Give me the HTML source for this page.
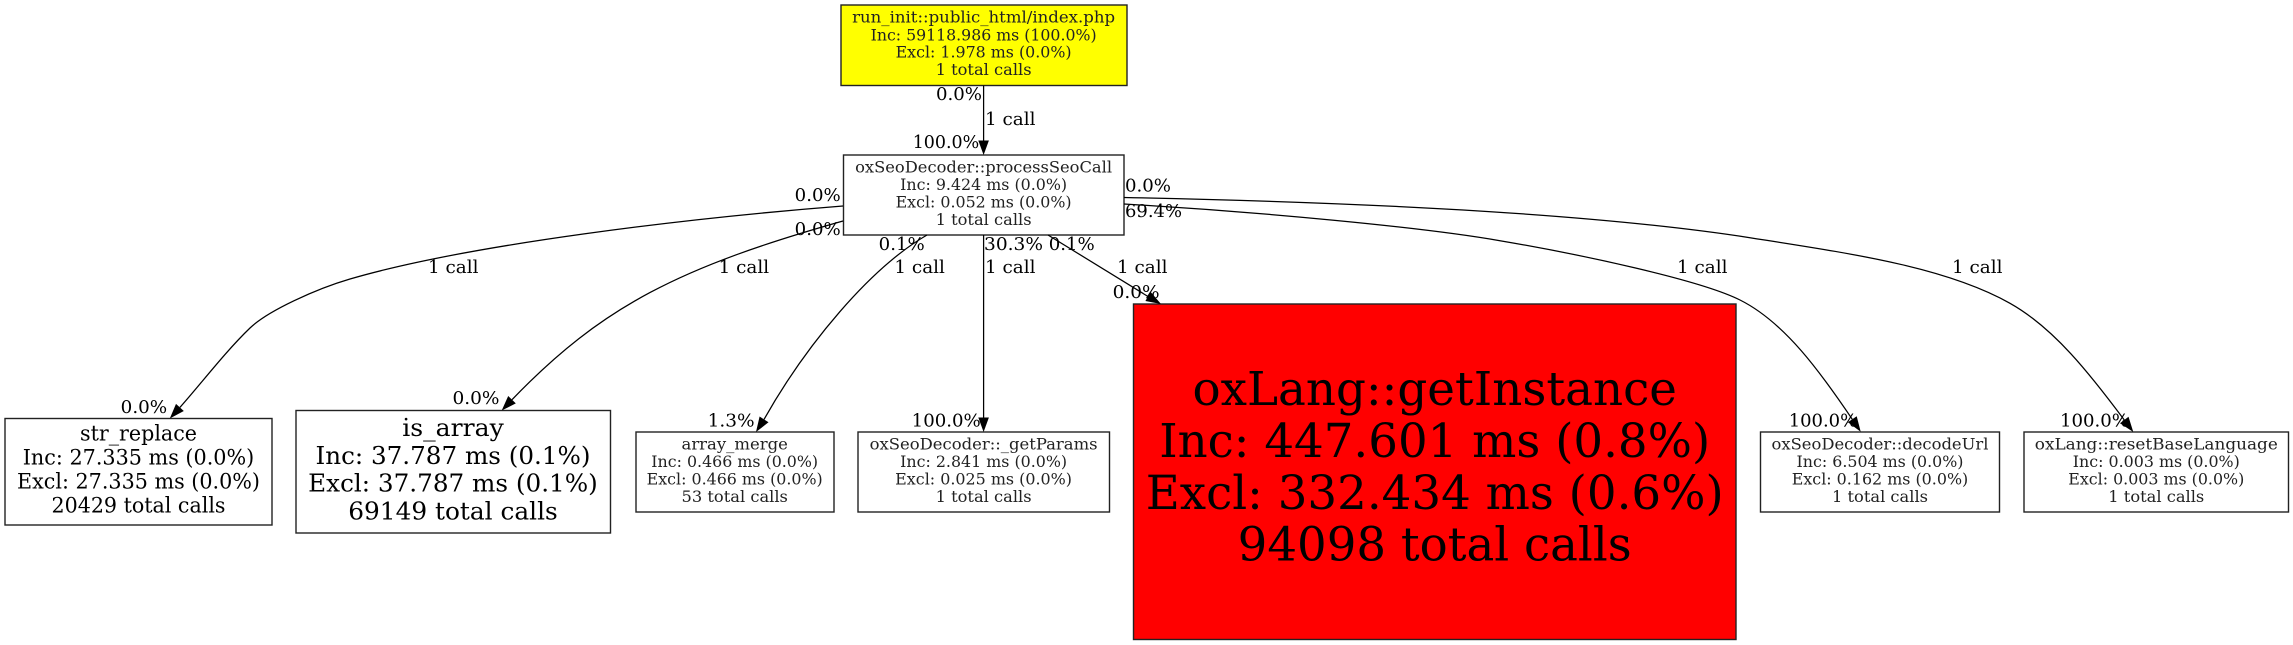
<!DOCTYPE html>
<html><head><meta charset="utf-8"><style>
html,body{margin:0;padding:0;background:#fff}
svg{display:block}
text{font-family:"DejaVu Serif","Liberation Serif",serif;fill:#000;text-anchor:middle}
.n rect{stroke:#222;stroke-width:1.4}
.s{font-size:15.6px;fill:#222}.m{font-size:21px}.a{font-size:24.5px}.b{font-size:46.5px}
.l{font-size:18px;text-anchor:start}
.e{fill:none;stroke:#000;stroke-width:1.25}
</style></head><body>
<svg width="2293" height="645" viewBox="0 0 2293 645" xmlns="http://www.w3.org/2000/svg">
<rect width="2293" height="645" fill="#fff"/>
<g class="n">
<rect x="841" y="5" width="286" height="80.5" fill="#ff0"/>
<rect x="843.5" y="155" width="280.5" height="80" fill="#fff"/>
<rect x="5" y="418.5" width="267" height="106.5" fill="#fff"/>
<rect x="296" y="410.5" width="314.5" height="122.5" fill="#fff"/>
<rect x="636" y="432" width="198" height="80" fill="#fff"/>
<rect x="858" y="432" width="251.5" height="80" fill="#fff"/>
<rect x="1133.5" y="304" width="602.5" height="335.5" fill="#f00"/>
<rect x="1760.5" y="432" width="239" height="80" fill="#fff"/>
<rect x="2024" y="432" width="264.5" height="80" fill="#fff"/>
</g>
<g>
<path class="e" d="M983.6,85.5 L983.6,141"/>
<path d="M978.3,140.5 L988.9,140.5 L983.6,155 Z"/>
<path class="e" d="M843,206 C690,218 470,244 350,279 C316.4,288.8 268,310.7 250,328 C225,352 200,385 179.9,407.4"/>
<path d="M183.8,411 L176,403.9 L169.8,418.5 Z"/>
<path class="e" d="M843,221 C680,267 602,306 512,399.7"/>
<path d="M515.8,403.4 L508.2,396 L501.7,410.5 Z"/>
<path class="e" d="M927,235 C870,268 806,345 764,419.4"/>
<path d="M768.5,422.3 L759.6,416.5 L756,432 Z"/>
<path class="e" d="M983.6,235 L983.6,418"/>
<path d="M978.3,417.5 L988.9,417.5 L983.6,432 Z"/>
<path class="e" d="M1048,235 L1148,296.5"/>
<path d="M1150.7,292 L1145.4,301 L1161,304 Z"/>
<path class="e" d="M1124,204 C1260,212 1421.6,227 1500,240.7 C1580,254.3 1700,279.8 1740,300 C1785,322.5 1821,373 1852.3,419.3"/>
<path d="M1856.7,416.3 L1847.9,422.3 L1860.7,431.7 Z"/>
<path class="e" d="M1124,197.5 C1300,201 1570,209.8 1750,237.7 C1850,253.4 1945,266.7 2010,303.3 C2054,328 2090,374 2124.3,420"/>
<path d="M2128.5,416.8 L2120,423.2 L2133.3,432 Z"/>
</g>
<g>
<text class="s" x="983.6" y="22.7" textLength="263" lengthAdjust="spacingAndGlyphs">run_init::public_html/index.php</text>
<text class="s" x="983.6" y="40.3" textLength="226" lengthAdjust="spacingAndGlyphs">Inc: 59118.986 ms (100.0%)</text>
<text class="s" x="983.6" y="57.7" textLength="176" lengthAdjust="spacingAndGlyphs">Excl: 1.978 ms (0.0%)</text>
<text class="s" x="983.6" y="75.2" textLength="96" lengthAdjust="spacingAndGlyphs">1 total calls</text>

<text class="s" x="983.6" y="172.5" textLength="257" lengthAdjust="spacingAndGlyphs">oxSeoDecoder::processSeoCall</text>
<text class="s" x="983.6" y="190" textLength="167" lengthAdjust="spacingAndGlyphs">Inc: 9.424 ms (0.0%)</text>
<text class="s" x="983.6" y="207.4" textLength="176" lengthAdjust="spacingAndGlyphs">Excl: 0.052 ms (0.0%)</text>
<text class="s" x="983.6" y="225" textLength="96" lengthAdjust="spacingAndGlyphs">1 total calls</text>

<text class="m" x="138.5" y="440.7" textLength="117" lengthAdjust="spacingAndGlyphs">str_replace</text>
<text class="m" x="138.5" y="464.7" textLength="231.5" lengthAdjust="spacingAndGlyphs">Inc: 27.335 ms (0.0%)</text>
<text class="m" x="138.5" y="488.7" textLength="243" lengthAdjust="spacingAndGlyphs">Excl: 27.335 ms (0.0%)</text>
<text class="m" x="138.5" y="512.7" textLength="174" lengthAdjust="spacingAndGlyphs">20429 total calls</text>

<text class="a" x="453" y="436" textLength="101.5" lengthAdjust="spacingAndGlyphs">is_array</text>
<text class="a" x="453" y="464" textLength="275" lengthAdjust="spacingAndGlyphs">Inc: 37.787 ms (0.1%)</text>
<text class="a" x="453" y="491.7" textLength="289.6" lengthAdjust="spacingAndGlyphs">Excl: 37.787 ms (0.1%)</text>
<text class="a" x="453" y="519.4" textLength="209.5" lengthAdjust="spacingAndGlyphs">69149 total calls</text>

<text class="s" x="734.7" y="449.3" textLength="106.4" lengthAdjust="spacingAndGlyphs">array_merge</text>
<text class="s" x="734.7" y="466.8" textLength="166.8" lengthAdjust="spacingAndGlyphs">Inc: 0.466 ms (0.0%)</text>
<text class="s" x="734.7" y="484.3" textLength="176" lengthAdjust="spacingAndGlyphs">Excl: 0.466 ms (0.0%)</text>
<text class="s" x="734.7" y="501.8" textLength="106.4" lengthAdjust="spacingAndGlyphs">53 total calls</text>

<text class="s" x="983.6" y="449.3" textLength="228" lengthAdjust="spacingAndGlyphs">oxSeoDecoder::_getParams</text>
<text class="s" x="983.6" y="466.8" textLength="167" lengthAdjust="spacingAndGlyphs">Inc: 2.841 ms (0.0%)</text>
<text class="s" x="983.6" y="484.3" textLength="176.8" lengthAdjust="spacingAndGlyphs">Excl: 0.025 ms (0.0%)</text>
<text class="s" x="983.6" y="501.8" textLength="96" lengthAdjust="spacingAndGlyphs">1 total calls</text>

<text class="b" x="1434.7" y="405" textLength="484.5" lengthAdjust="spacingAndGlyphs">oxLang::getInstance</text>
<text class="b" x="1434.7" y="456.8" textLength="551" lengthAdjust="spacingAndGlyphs">Inc: 447.601 ms (0.8%)</text>
<text class="b" x="1434.7" y="508.8" textLength="578" lengthAdjust="spacingAndGlyphs">Excl: 332.434 ms (0.6%)</text>
<text class="b" x="1434.7" y="560.7" textLength="394" lengthAdjust="spacingAndGlyphs">94098 total calls</text>

<text class="s" x="1880" y="449.3" textLength="217" lengthAdjust="spacingAndGlyphs">oxSeoDecoder::decodeUrl</text>
<text class="s" x="1880" y="466.8" textLength="167" lengthAdjust="spacingAndGlyphs">Inc: 6.504 ms (0.0%)</text>
<text class="s" x="1880" y="484.3" textLength="176.5" lengthAdjust="spacingAndGlyphs">Excl: 0.162 ms (0.0%)</text>
<text class="s" x="1880" y="501.8" textLength="96" lengthAdjust="spacingAndGlyphs">1 total calls</text>

<text class="s" x="2156.3" y="449.3" textLength="243" lengthAdjust="spacingAndGlyphs">oxLang::resetBaseLanguage</text>
<text class="s" x="2156.3" y="466.8" textLength="167" lengthAdjust="spacingAndGlyphs">Inc: 0.003 ms (0.0%)</text>
<text class="s" x="2156.3" y="484.3" textLength="176" lengthAdjust="spacingAndGlyphs">Excl: 0.003 ms (0.0%)</text>
<text class="s" x="2156.3" y="501.8" textLength="96" lengthAdjust="spacingAndGlyphs">1 total calls</text>
</g>
<g>
<text class="l" x="936" y="100" textLength="46" lengthAdjust="spacingAndGlyphs">0.0%</text>
<text class="l" x="985" y="125" textLength="50.5" lengthAdjust="spacingAndGlyphs">1 call</text>
<text class="l" x="912.7" y="148" textLength="66.5" lengthAdjust="spacingAndGlyphs">100.0%</text>
<text class="l" x="794.7" y="201" textLength="46" lengthAdjust="spacingAndGlyphs">0.0%</text>
<text class="l" x="794.7" y="235" textLength="46" lengthAdjust="spacingAndGlyphs">0.0%</text>
<text class="l" x="878.7" y="250" textLength="46" lengthAdjust="spacingAndGlyphs">0.1%</text>
<text class="l" x="984" y="250" textLength="59" lengthAdjust="spacingAndGlyphs">30.3%</text>
<text class="l" x="1048.7" y="250" textLength="46" lengthAdjust="spacingAndGlyphs">0.1%</text>
<text class="l" x="1125" y="191.7" textLength="46" lengthAdjust="spacingAndGlyphs">0.0%</text>
<text class="l" x="1125" y="217" textLength="57" lengthAdjust="spacingAndGlyphs">69.4%</text>
<text class="l" x="428" y="273" textLength="50.5" lengthAdjust="spacingAndGlyphs">1 call</text>
<text class="l" x="718.6" y="273" textLength="50.5" lengthAdjust="spacingAndGlyphs">1 call</text>
<text class="l" x="894.4" y="273" textLength="50.5" lengthAdjust="spacingAndGlyphs">1 call</text>
<text class="l" x="985" y="273" textLength="50.5" lengthAdjust="spacingAndGlyphs">1 call</text>
<text class="l" x="1117" y="273" textLength="50.5" lengthAdjust="spacingAndGlyphs">1 call</text>
<text class="l" x="1677" y="273" textLength="50.5" lengthAdjust="spacingAndGlyphs">1 call</text>
<text class="l" x="1952" y="273" textLength="50.5" lengthAdjust="spacingAndGlyphs">1 call</text>
<text class="l" x="120.7" y="413" textLength="46.5" lengthAdjust="spacingAndGlyphs">0.0%</text>
<text class="l" x="452.5" y="404" textLength="47" lengthAdjust="spacingAndGlyphs">0.0%</text>
<text class="l" x="707.6" y="426.7" textLength="47" lengthAdjust="spacingAndGlyphs">1.3%</text>
<text class="l" x="911.7" y="426.7" textLength="69" lengthAdjust="spacingAndGlyphs">100.0%</text>
<text class="l" x="1112.6" y="298" textLength="47" lengthAdjust="spacingAndGlyphs">0.0%</text>
<text class="l" x="1788.7" y="426.7" textLength="68.5" lengthAdjust="spacingAndGlyphs">100.0%</text>
<text class="l" x="2060" y="426.7" textLength="69" lengthAdjust="spacingAndGlyphs">100.0%</text>
</g>
</svg>
</body></html>
